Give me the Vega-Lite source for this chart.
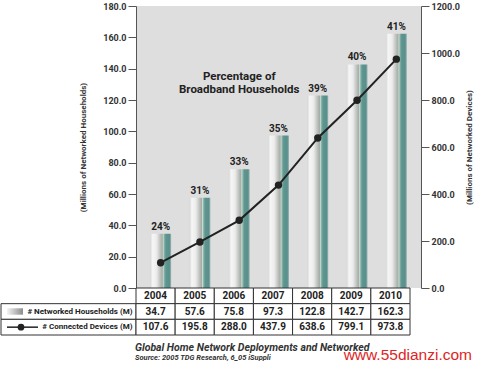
{
  "$schema": "https://vega.github.io/schema/vega-lite/v6.json",
  "padding": {"left": 0, "top": 2, "right": 2, "bottom": 2},
  "background": "white",
  "config": {
    "view": {"stroke": null},
    "font": "Roboto, 'DejaVu Sans Condensed', sans-serif",
    "axis": {"labelOverlap": false}
  },
  "datasets": {
    "main": [
      {"year": 2004, "households": 34.7, "devices": 107.6, "pct": 0.24},
      {"year": 2005, "households": 57.6, "devices": 195.8, "pct": 0.31},
      {"year": 2006, "households": 75.8, "devices": 288.0, "pct": 0.33},
      {"year": 2007, "households": 97.3, "devices": 437.9, "pct": 0.35},
      {"year": 2008, "households": 122.8, "devices": 638.6, "pct": 0.39},
      {"year": 2009, "households": 142.7, "devices": 799.1, "pct": 0.40},
      {"year": 2010, "households": 162.3, "devices": 973.8, "pct": 0.41}
    ],
    "rows": [
      {"key": "households"},
      {"key": "devices"}
    ],
    "note": [
      {"note": "Percentage of Broadband Households"}
    ]
  },
  "columns": 2,
  "spacing": 0,
  "bounds": "flush",
  "concat": [
    {
      "width": 135,
      "height": 282,
      "data": {"values": [{}]},
      "mark": {"type": "point", "opacity": 0},
      "encoding": {}
    },
    {
      "width": 285,
      "height": 282,
      "view": {"fill": "#dedede", "stroke": null},
      "layer": [
        {
          "data": {"name": "main"},
          "encoding": {
            "x": {"field": "year", "type": "ordinal", "scale": {"paddingInner": 0.465, "paddingOuter": 0.36}, "axis": null},
            "y": {
              "field": "households", "type": "quantitative",
              "scale": {"domain": [0, 180], "nice": false},
              "axis": {
                "orient": "left",
                "values": [0, 20, 40, 60, 80, 100, 120, 140, 160, 180],
                "tickCount": 10,
                "format": ".1f",
                "grid": false,
                "labelOverlap": false,
                "title": "(Millions of Networked Households)",
                "titleFontSize": 8,
                "titleFontWeight": "bold",
                "titleColor": "#333",
                "titlePadding": 15,
                "labelFontSize": 9,
                "labelFontWeight": "bold",
                "labelColor": "#333",
                "labelPadding": 2,
                "tickSize": 8,
                "tickColor": "#555",
                "domainColor": "#555"
              }
            }
          },
          "layer": [
            {
              "mark": {
                "type": "bar",
                "fill": {
                  "gradient": "linear", "x1": 0, "x2": 1, "y1": 0, "y2": 0,
                  "stops": [
                    {"offset": 0, "color": "#d5d8d5"},
                    {"offset": 0.12, "color": "#f6f6f6"},
                    {"offset": 0.3, "color": "#ececec"},
                    {"offset": 0.5, "color": "#b9bdb9"},
                    {"offset": 0.58, "color": "#a6aca8"},
                    {"offset": 0.62, "color": "#c8dccc"},
                    {"offset": 0.68, "color": "#7fb0a8"},
                    {"offset": 0.75, "color": "#5f9590"},
                    {"offset": 0.92, "color": "#5a8f8c"},
                    {"offset": 1, "color": "#9fbcb8"}
                  ]
                }
              }
            },
            {
              "mark": {"type": "text", "baseline": "alphabetic", "dy": -4, "fontSize": 10, "fontWeight": "bold", "color": "#222"},
              "encoding": {
                "text": {"field": "pct", "type": "quantitative", "format": ".0%"}
              }
            }
          ]
        },
        {
          "data": {"name": "main"},
          "encoding": {
            "x": {"field": "year", "type": "ordinal"},
            "y": {
              "field": "devices", "type": "quantitative",
              "scale": {"domain": [0, 1200], "nice": false},
              "axis": {
                "orient": "right",
                "values": [0, 200, 400, 600, 800, 1000, 1200],
                "format": ".1f",
                "grid": false,
                "labelOverlap": false,
                "title": "(Millions of Networked Devices)",
                "titleAngle": 270,
                "titleBaseline": "top",
                "titleFontSize": 8,
                "titleFontWeight": "bold",
                "titleColor": "#333",
                "titlePadding": 6,
                "labelFontSize": 9,
                "labelFontWeight": "bold",
                "labelColor": "#333",
                "labelPadding": 2,
                "tickSize": 8,
                "tickColor": "#555",
                "domainColor": "#555"
              }
            }
          },
          "layer": [
            {"mark": {"type": "line", "color": "#222", "strokeWidth": 2}},
            {"mark": {"type": "circle", "size": 55, "color": "#222", "opacity": 1}}
          ]
        },
        {
          "data": {"name": "note"},
          "mark": {"type": "text", "baseline": "middle", "align": "center", "fontSize": 11.5, "fontWeight": "bold", "lineHeight": 13.5, "color": "#222"},
          "encoding": {
            "x": {"datum": 2006, "type": "ordinal"},
            "y": {"datum": 135, "type": "quantitative", "scale": {"domain": [0, 180], "nice": false}, "axis": null},
            "text": {"value": ["Percentage of", "Broadband Households"]}
          }
        }
      ],
      "resolve": {"scale": {"y": "independent"}}
    },
    {
      "width": 135,
      "height": 47,
      "data": {"name": "rows"},
      "title": {
        "text": "Global Home Network Deployments and Networked",
        "subtitle": "Source: 2005 TDG Research, 6_05 iSuppli",
        "orient": "bottom",
        "anchor": "start",
        "frame": "group",
        "dx": 134,
        "offset": 7,
        "fontSize": 10.5,
        "fontStyle": "italic",
        "fontWeight": "bold",
        "color": "#333",
        "subtitleFontSize": 7.5,
        "subtitleFontStyle": "italic",
        "subtitleFontWeight": "bold",
        "subtitleColor": "#333",
        "subtitlePadding": 1
      },
      "encoding": {
        "y": {
          "field": "key", "type": "nominal",
          "scale": {"domain": ["year", "households", "devices"], "paddingInner": 0, "paddingOuter": 0},
          "axis": {
            "orient": "right",
            "title": null,
            "domain": false,
            "ticks": false,
            "tickSize": 0,
            "labelPadding": -4,
            "labelAlign": "right",
            "labelFontSize": 8,
            "labelFontWeight": "bold",
            "labelColor": "#222",
            "labelExpr": "datum.value == 'households' ? '# Networked Households (M)' : datum.value == 'devices' ? '# Connected Devices (M)' : ''",
            "zindex": 2
          }
        }
      },
      "layer": [
        {
          "mark": {"type": "rect", "fill": "white", "stroke": "#333", "strokeWidth": 1}
        },
        {
          "transform": [{"filter": "datum.key == 'households'"}],
          "mark": {
            "type": "point", "shape": "M-1,-0.4H1V0.4H-1Z", "size": 256, "filled": true, "opacity": 1,
            "strokeWidth": 0,
            "fill": {
              "gradient": "linear", "x1": 0, "x2": 1, "y1": 0, "y2": 0,
              "stops": [{"offset": 0, "color": "#f4f4f4"}, {"offset": 1, "color": "#8c8c8c"}]
            },
            "xOffset": -53.5
          }
        },
        {
          "transform": [{"filter": "datum.key == 'devices'"}],
          "mark": {"type": "point", "shape": "M-1,0H1", "size": 961, "filled": false, "opacity": 1, "stroke": "#222", "strokeWidth": 1.5, "xOffset": -46}
        },
        {
          "transform": [{"filter": "datum.key == 'devices'"}],
          "mark": {"type": "circle", "size": 45, "color": "#222", "opacity": 1, "xOffset": -47.5}
        }
      ]
    },
    {
      "width": 274,
      "height": 47,
      "data": {"name": "main"},
      "transform": [{"fold": ["year", "households", "devices"], "as": ["key", "value"]}],
      "title": {
        "text": "www.55dianzi.com",
        "orient": "bottom",
        "anchor": "end",
        "frame": "group",
        "dx": 62,
        "offset": 12,
        "font": "'Liberation Sans', Arial, sans-serif",
        "fontSize": 15.5,
        "fontWeight": "normal",
        "color": "#e02424"
      },
      "encoding": {
        "x": {"field": "year", "type": "ordinal", "scale": {"paddingInner": 0, "paddingOuter": 0}, "axis": null},
        "y": {"field": "key", "type": "nominal", "scale": {"domain": ["year", "households", "devices"], "paddingInner": 0, "paddingOuter": 0}, "axis": null}
      },
      "layer": [
        {"mark": {"type": "rect", "fill": "white", "stroke": "#333", "strokeWidth": 1}},
        {
          "transform": [{"filter": "datum.key == 'year'"}],
          "mark": {"type": "text", "fontSize": 10, "fontWeight": "bold", "color": "#222"},
          "encoding": {"text": {"field": "value", "type": "quantitative", "format": "d"}}
        },
        {
          "transform": [{"filter": "datum.key != 'year'"}],
          "mark": {"type": "text", "fontSize": 10, "fontWeight": "bold", "color": "#222"},
          "encoding": {"text": {"field": "value", "type": "quantitative", "format": ".1f"}}
        }
      ]
    }
  ]
}
